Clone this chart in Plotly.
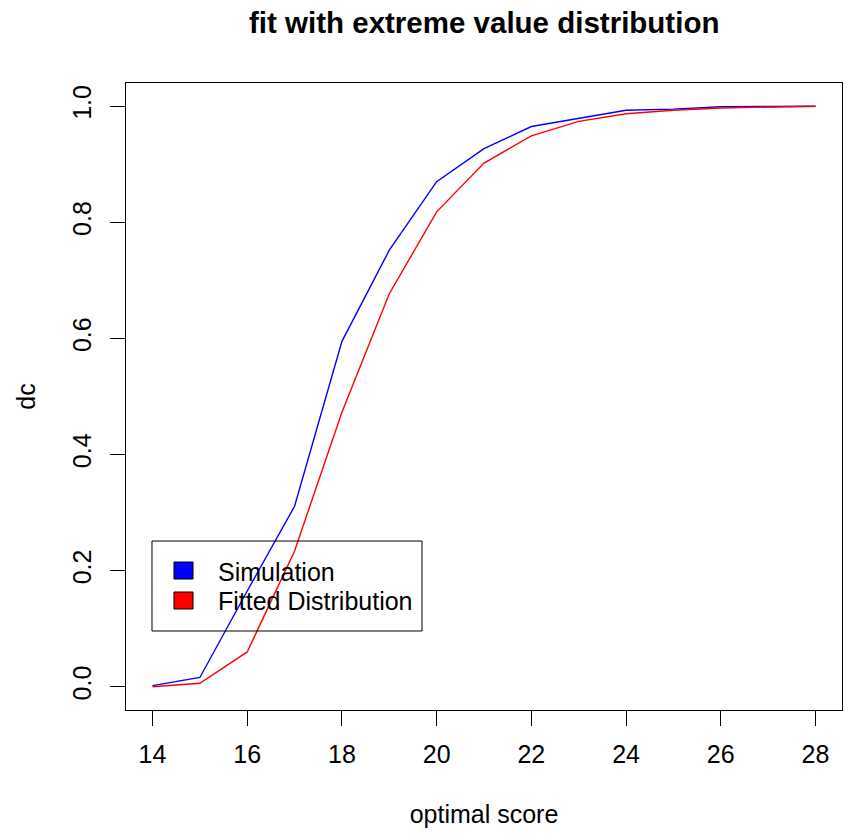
import plotly.graph_objects as go

score = [14, 15, 16, 17, 18, 19, 20, 21, 22, 23, 24, 25, 26, 27, 28]
simulation = [0.002, 0.016, 0.165, 0.311, 0.595, 0.752, 0.870, 0.927, 0.965, 0.979, 0.993, 0.995, 0.999, 0.9995, 1.0]
fitted = [0.0, 0.006, 0.060, 0.234, 0.473, 0.677, 0.818, 0.902, 0.949, 0.974, 0.987, 0.993, 0.997, 0.999, 1.0]
legend_labels = ["Simulation", "Fitted Distribution"]
colors = ["blue", "red"]
x_ticks = [14, 16, 18, 20, 22, 24, 26, 28]
y_ticks = [0.0, 0.2, 0.4, 0.6, 0.8, 1.0]

FONT = "Liberation Sans, Arial, sans-serif"
FS = 25

fig = go.Figure()
fig.add_trace(go.Scatter(x=score, y=simulation, mode="lines", name=legend_labels[0],
                         line=dict(color=colors[0], width=1.4), showlegend=False))
fig.add_trace(go.Scatter(x=score, y=fitted, mode="lines", name=legend_labels[1],
                         line=dict(color=colors[1], width=1.4), showlegend=False))

# manual R-style legend
shapes = [dict(type="rect", xref="paper", yref="paper", x0=0.0363, x1=0.4134, y0=0.126, y1=0.2695,
               line=dict(color="black", width=1), fillcolor="rgba(0,0,0,0)", layer="above")]
sq_y = [(0.2089, 0.2360), (0.1611, 0.1882)]
text_y = [0.2201, 0.1738]
annotations = []
for i, lab in enumerate(legend_labels):
    shapes.append(dict(type="rect", xref="paper", yref="paper", x0=0.0670, x1=0.0936,
                       y0=sq_y[i][0], y1=sq_y[i][1], line=dict(color="black", width=1),
                       fillcolor=colors[i], layer="above"))
    annotations.append(dict(text=lab, xref="paper", yref="paper", x=0.1257, y=text_y[i],
                            xanchor="left", yanchor="middle", showarrow=False,
                            font=dict(family=FONT, size=FS, color="black")))

annotations.append(dict(text="<b>fit with extreme value distribution</b>", xref="paper", yref="paper",
                        x=0.5, y=1.0, yshift=61, xanchor="center", yanchor="middle", showarrow=False,
                        font=dict(family=FONT, size=29.5, color="black")))

fig.update_layout(
    width=849, height=835,
    margin=dict(l=126, r=7, t=83, b=125),
    paper_bgcolor="white", plot_bgcolor="white",
    font=dict(family=FONT, size=FS, color="black"),
    shapes=shapes, annotations=annotations,
    showlegend=False,
)
fig.update_xaxes(range=[13.44, 28.56], tickvals=x_ticks, ticks="outside", ticklen=15, tickwidth=1,
                 tickcolor="black", showline=True, linecolor="black", linewidth=1, mirror=True,
                 showgrid=False, zeroline=False, tickfont=dict(size=FS), ticklabelstandoff=7,
                 title=dict(text="optimal score", standoff=38, font=dict(size=FS)))
fig.update_yaxes(range=[-0.04, 1.04], tickvals=y_ticks, tickformat=".1f", ticks="outside", ticklen=15,
                 tickwidth=1, tickcolor="black", showline=True, linecolor="black", linewidth=1, mirror=True,
                 showgrid=False, zeroline=False, tickangle=-90, tickfont=dict(size=FS), ticklabelstandoff=9,
                 title=dict(text="dc", standoff=25, font=dict(size=FS)))

fig.write_html("out.html", config={"displayModeBar": False},
               post_script="document.body.style.margin='0';")
